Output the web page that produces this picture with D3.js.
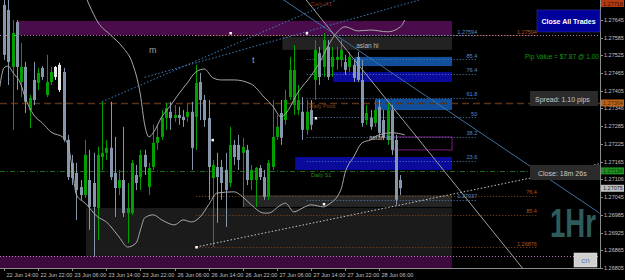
<!DOCTYPE html>
<html><head><meta charset="utf-8">
<script src="https://cdn.jsdelivr.net/npm/d3@7"></script>
<style>html,body{margin:0;padding:0;background:#000;overflow:hidden}svg{display:block}text{font-family:"Liberation Sans",Arial,sans-serif}</style>
</head><body><svg id="c" width="625" height="280"></svg>
<script>
// ---------- data ----------
const open=[1.27696,1.27679,1.27486,1.27638,1.27435,1.27486,1.27340,1.27442,1.27432,1.27483,
1.27391,1.27435,1.27486,1.27493,1.27469,1.27239,1.27161,1.27127,1.27079,1.27052,
1.27103,1.27093,1.27008,1.27181,1.27195,1.27212,1.27127,1.27076,1.27103,1.26991,
1.26991,1.27120,1.27113,1.27188,1.27079,1.27147,1.27229,1.27249,1.27313,1.27334,
1.27313,1.27323,1.27317,1.27317,1.27334,1.27317,1.27435,1.27374,1.27313,1.27110,
1.27147,1.27147,1.27137,1.27093,1.27222,1.27222,1.27195,1.27205,1.27103,1.27103,
1.27144,1.27113,1.27046,1.27147,1.27249,1.27330,1.27306,1.27384,1.27357,1.27340,
1.27334,1.27273,1.27340,1.27442,1.27533,1.27486,1.27554,1.27486,1.27510,1.27510,
1.27503,1.27486,1.27493,1.27520,1.27442,1.27306,1.27313,1.27296,1.27351,1.27306,
1.27239,1.27340,1.27239,1.27103];
const high=[1.27713,1.27713,1.27645,1.27645,1.27567,1.27503,1.27391,1.27503,1.27483,1.27489,
1.27527,1.27486,1.27489,1.27500,1.27483,1.27256,1.27188,1.27161,1.27103,1.27239,
1.27205,1.27195,1.27215,1.27368,1.27239,1.27368,1.27249,1.27137,1.27283,1.27093,
1.27171,1.27154,1.27205,1.27205,1.27161,1.27290,1.27290,1.27340,1.27364,1.27368,
1.27357,1.27351,1.27340,1.27364,1.27368,1.27493,1.27466,1.27391,1.27374,1.27171,
1.27195,1.27171,1.27195,1.27283,1.27239,1.27256,1.27246,1.27222,1.27154,1.27147,
1.27154,1.27137,1.27171,1.27374,1.27323,1.27374,1.27408,1.27520,1.27560,1.27425,
1.27384,1.27374,1.27374,1.27577,1.27554,1.27601,1.27577,1.27554,1.27554,1.27577,
1.27527,1.27537,1.27510,1.27537,1.27510,1.27357,1.27340,1.27374,1.27374,1.27340,
1.27364,1.27357,1.27256,1.27120];
const low=[1.27510,1.27425,1.27273,1.27408,1.27384,1.27330,1.27279,1.27357,1.27408,1.27442,
1.27384,1.27425,1.27442,1.27401,1.27232,1.27103,1.27086,1.26968,1.27036,1.27042,
1.26934,1.26843,1.26900,1.27137,1.27171,1.27103,1.26978,1.27052,1.26978,1.26890,
1.26985,1.27069,1.27069,1.27120,1.27052,1.27137,1.27205,1.27239,1.27273,1.27273,
1.27300,1.27290,1.27283,1.27300,1.27137,1.27205,1.27306,1.27283,1.27036,1.26876,
1.26958,1.27036,1.26944,1.27079,1.27154,1.27137,1.27012,1.27086,1.27069,1.27012,
1.27103,1.27036,1.27036,1.27137,1.27239,1.27222,1.27290,1.27374,1.27323,1.27323,
1.27239,1.27256,1.27273,1.27374,1.27425,1.27452,1.27442,1.27452,1.27476,1.27486,
1.27459,1.27469,1.27435,1.27435,1.27283,1.27290,1.27273,1.27283,1.27249,1.27239,
1.27222,1.27188,1.27019,1.27052];
const close=[1.27527,1.27503,1.27601,1.27486,1.27486,1.27368,1.27381,1.27374,1.27466,1.27452,
1.27435,1.27469,1.27452,1.27408,1.27239,1.27113,1.27110,1.27069,1.27052,1.27188,
1.27012,1.27012,1.27188,1.27195,1.27212,1.27113,1.27076,1.27103,1.26991,1.27008,
1.27161,1.27093,1.27188,1.27147,1.27144,1.27229,1.27249,1.27313,1.27347,1.27313,
1.27323,1.27313,1.27306,1.27334,1.27212,1.27432,1.27374,1.27306,1.27147,1.27154,
1.27113,1.27093,1.27069,1.27222,1.27181,1.27171,1.27215,1.27103,1.27137,1.27144,
1.27113,1.27046,1.27161,1.27249,1.27283,1.27246,1.27374,1.27476,1.27476,1.27374,
1.27273,1.27334,1.27290,1.27544,1.27452,1.27577,1.27452,1.27520,1.27520,1.27544,
1.27476,1.27520,1.27449,1.27442,1.27296,1.27330,1.27283,1.27340,1.27263,1.27246,
1.27340,1.27205,1.27036,1.27075];
const whiteBars=[12,13];

const upperIdx=[18,20,22,25,28,30,32,33,34,35,37,39,41,43,45,47,49,51,54,58,61,63,65,66,69,72,74,76,78,80,83,86,90,93,94];
const upperVal=[1.27764,1.27696,1.27638,1.27594,1.27550,1.27503,1.27391,1.27290,1.27249,1.27263,1.27317,1.27354,1.27395,1.27432,1.27469,1.27479,1.27449,1.27442,1.27442,1.27428,1.27384,1.27354,1.27317,1.27327,1.27401,1.27456,1.27500,1.27557,1.27601,1.27622,1.27608,1.27611,1.27605,1.27622,1.27645];
const lowerIdx=[-1,0,1,2,4,5,7,9,11,14,15,16,17,19,22,24,27,29,31,32,33,35,37,40,42,44,46,48,50,54,56,58,61,62,65,66,68,70,72,75,76,79,80,82,84,86,88,91,94];
const lowerVal=[1.27418,1.27483,1.27489,1.27469,1.27425,1.27381,1.27323,1.27296,1.27266,1.27246,1.27222,1.27144,1.27052,1.27025,1.26978,1.26961,1.26910,1.26876,1.26890,1.26934,1.26975,1.26985,1.26968,1.26951,1.26968,1.26961,1.26978,1.27019,1.27059,1.27063,1.27046,1.27019,1.26991,1.26991,1.27019,1.27025,1.26995,1.27008,1.27019,1.27012,1.27019,1.27069,1.27127,1.27181,1.27229,1.27239,1.27256,1.27263,1.27256];

const priceTicks=[1.27645,1.27585,1.27525,1.27465,1.27405,1.27346,1.27285,1.27225,1.27165,1.27106,1.27045,1.26985,1.26925,1.26865,1.26805];
const priceTickLabels=["1.27645","1.27585","1.27525","1.27465","1.27405","1.27346","1.27285","1.27225","1.27165","1.27106","1.27045","1.26985","1.26925","1.26865","1.26805"];
const timeIdx=[0,8,16,24,32,40,48,56,64,72,80,88];
const timeLabels=["22 Jun 14:00","22 Jun 22:00","23 Jun 06:00","23 Jun 14:00","23 Jun 22:00","26 Jun 06:00","26 Jun 14:00","26 Jun 22:00","27 Jun 06:00","27 Jun 14:00","27 Jun 22:00","28 Jun 06:00"];

const fibHigh=1.27594, fibLow=1.27037;
const fibLevels=[85.4,76.4,61.8,50,38.2,23.6];
const extPrices=[1.27594,1.27049,1.26985,1.26876];
const extLabels=["1.27594","76.4","85.4","1.26876"];
const pivot=1.27364, s1=1.27134, r1=1.27716, lastPrice=1.27075, lowZoneLine=1.26846;

// zones: start bar, end bar, top price, bottom price
const zoneStart=[-2,3,19.2,56,65.3,82.2,77.2,87.1,68.3];
const zoneEnd  =[105.1,105.1,105.1,105.1,105.1,105.1,105.1,105.1,105.1];
const zoneTop  =[1.26846,1.27642,1.27008,1.27052,1.27588,1.27520,1.27469,1.27378,1.27181];
const zoneBot  =[1.26805,1.27594,1.26846,1.27012,1.27544,1.27489,1.27435,1.27340,1.27137];
const zoneKind =["purpleLow","purple","gray","grayLight","grayTop","steel","navy","steel","navy"];
const boxOutline={start:91,end:105.1,top:1.27249,bot:1.27205};

// trend lines: bar/price endpoints
const tlI1=[65.3,70.7,45.1,23,33], tlP1=[1.27716,1.27716,1.26876,1.27368,1.27451];
const tlI2=[139.7,121.6,139.7,78,97.5], tlP2=[1.26991,1.26805,1.27158,1.27713,1.27713];
const tlKind=["blue","gray","whiteDot","blueDot","blueDot"];

// fractal dots
const dotIdx=[53.1,71,73.1,48.9,45.1,75];
const dotVal=[1.27601,1.27601,1.27313,1.27239,1.26876,1.27022];

// ---------- drawing ----------
const W=600,H=268;
const svg=d3.select("#c");
svg.append("rect").attr("width",625).attr("height",280).attr("fill","#000");
const x=d3.scaleLinear().domain([-0.94,139.8]).range([0,W]);
const y=d3.scaleLinear().domain([1.26805,1.27645]).range([H,20]);
svg.append("clipPath").attr("id","pc").append("rect").attr("width",W).attr("height",H);
const g=svg.append("g").attr("clip-path","url(#pc)");

const zoneFill={purpleLow:"#3d0a3d",purple:"#4a0c4a",gray:"#1b1b1b",grayLight:"#262626",grayTop:"#222222",steel:"#0f4f9c",navy:"#0a0a9c"};
zoneKind.forEach((k,j)=>{
  g.append("rect").attr("x",x(zoneStart[j])).attr("width",x(zoneEnd[j])-x(zoneStart[j]))
   .attr("y",y(zoneTop[j])).attr("height",y(zoneBot[j])-y(zoneTop[j])).attr("fill",zoneFill[k]);
});
g.append("rect").attr("x",x(boxOutline.start)).attr("width",x(boxOutline.end)-x(boxOutline.start))
 .attr("y",y(boxOutline.top)).attr("height",y(boxOutline.bot)-y(boxOutline.top))
 .attr("fill","none").attr("stroke","#7a1a7a").attr("stroke-width",1);

// horizontal levels
function hline(p,x1,x2,col,dash,w){g.append("line").attr("x1",x1).attr("x2",x2).attr("y1",Math.round(y(p))+0.5).attr("y2",Math.round(y(p))+0.5).attr("stroke",col).attr("stroke-width",w||1).attr("stroke-dasharray",dash);}
hline(fibHigh,0,W,"#b07ab0","1,2");
hline(lowZoneLine,0,W,"#b07ab0","1,2");
hline(pivot,0,W,"#5a3216","7,4",1.5);
hline(s1,0,W,"#1f6a1f","5,2,1,2");
// extension (orange)
extPrices.forEach((p,j)=>{
  hline(p,x(45.1),x(125),"#8a4a1a","1,2");
  g.append("text").attr("x",x(125)).attr("y",y(p)-1.5).attr("text-anchor","end").attr("font-size",5.5).attr("fill","#b0581e").text(extLabels[j]);
});
// fib lines
const fibPrices=fibLevels.map(l=>fibLow+(fibHigh-fibLow)*l/100);
[fibHigh,...fibPrices,fibLow].forEach((p,j)=>{
  hline(p,x(71),x(111),"#4f7fb8","1,2");
  const lab=j===0?"1.27594":(j===fibPrices.length+1?"1.27037":String(fibLevels[j-1]));
  g.append("text").attr("x",x(111)).attr("y",y(p)-1.5).attr("text-anchor","end").attr("font-size",5.5).attr("fill","#5a8ac8").text(lab);
});

// candles
const idx=d3.range(open.length);
const bull="#00a000", bear="#8797ab";
idx.forEach(i=>{
  const up=close[i]>=open[i];
  const col=whiteBars.includes(i)?"#e8e8e8":(up?bull:bear);
  const cx=Math.round(x(i));
  g.append("line").attr("x1",cx+0.5).attr("x2",cx+0.5).attr("y1",y(high[i])).attr("y2",y(low[i])).attr("stroke",col).attr("stroke-width",1);
  const t=y(Math.max(open[i],close[i])), b=y(Math.min(open[i],close[i]));
  g.append("rect").attr("x",cx-1).attr("width",3).attr("y",t).attr("height",Math.max(1,b-t)).attr("fill",col);
});

// bands
const band=d3.line().x(d=>x(d[0])).y(d=>y(d[1])).curve(d3.curveMonotoneX);
g.append("path").attr("d",band(upperIdx.map((v,j)=>[v,upperVal[j]]))).attr("fill","none").attr("stroke","#a8a8a8").attr("stroke-width",1);
g.append("path").attr("d",band(lowerIdx.map((v,j)=>[v,lowerVal[j]]))).attr("fill","none").attr("stroke","#a8a8a8").attr("stroke-width",1);

// trend lines
const tlStyle={blue:["#3f6f9f",null],gray:["#a0a0a0",null],whiteDot:["#c8c8c8","1.5,2"],blueDot:["#3f7fbf","1.5,2"]};
tlKind.forEach((k,j)=>{
  g.append("line").attr("x1",x(tlI1[j])).attr("y1",y(tlP1[j])).attr("x2",x(tlI2[j])).attr("y2",y(tlP2[j]))
   .attr("stroke",tlStyle[k][0]).attr("stroke-width",1).attr("stroke-dasharray",tlStyle[k][1]);
});
// dots
dotIdx.forEach((v,j)=>g.append("rect").attr("x",x(v)-1).attr("y",y(dotVal[j])-1).attr("width",2.5).attr("height",2.5).attr("fill","#ffffff"));

// labels on chart
function txt(xx,yy,s,size,col,anchor){return svg.append("text").attr("x",xx).attr("y",yy).attr("font-size",size).attr("fill",col).attr("text-anchor",anchor||"start").text(s);}
txt(x(71.6),y(pivot)+5,"Daily Pivot",5.5,"#8a4a1a");
txt(x(72),y(s1)+6,"Daily S1",5.5,"#1f8f1f");
txt(x(72),y(r1)+7,"Daily R1",5.5,"#7a2a10");
txt(x(82.6),y(1.27550),"asian hi",6.5,"#b8b8b8");
txt(x(85.6),y(1.27250)+3,"asian lo",6.5,"#b8b8b8");
txt(x(34),y(1.27533),"m",9,"#a0a0a0");
txt(x(58.2),y(1.27500),"t",9,"#a0a0a0");

// axes
svg.append("line").attr("x1",W+0.5).attr("x2",W+0.5).attr("y1",0).attr("y2",H).attr("stroke","#8c8c8c");
svg.append("line").attr("x1",0).attr("x2",W).attr("y1",H+0.5).attr("y2",H+0.5).attr("stroke","#8c8c8c");
priceTicks.forEach((p,j)=>{
  svg.append("line").attr("x1",W).attr("x2",W+3).attr("y1",Math.round(y(p))+0.5).attr("y2",Math.round(y(p))+0.5).attr("stroke","#8c8c8c");
  txt(W+4,y(p)+2,priceTickLabels[j],5.5,"#c0c0c0");
});
timeIdx.forEach((v,j)=>{
  const tx=Math.round(x(v))+0.5;
  svg.append("line").attr("x1",tx).attr("x2",tx).attr("y1",H).attr("y2",H+3).attr("stroke","#8c8c8c");
  txt(tx+2,H+9,timeLabels[j],5.5,"#c0c0c0");
});
// axis price boxes
function axBox(p,bg,fg,lab){
  const yy=Math.max(y(p),3.5);
  svg.append("rect").attr("x",W+1).attr("y",yy-3.5).attr("width",23).attr("height",7).attr("fill",bg);
  txt(W+3,yy+2,lab,5.5,fg);
}
axBox(r1,"#b23a12","#3a0a00",d3.format(".5f")(r1));
axBox(pivot,"#b8621b","#5a2a00",d3.format(".5f")(pivot));
axBox(s1,"#1f8f1f","#0a3a0a",d3.format(".5f")(s1));
axBox(lastPrice,"#c0c0c0","#202020",d3.format(".5f")(lastPrice));

// panels
svg.append("rect").attr("x",537).attr("y",10).attr("width",63).attr("height",22).attr("fill","#00009a").attr("stroke","#3a3ab0").attr("stroke-width",0.5);
txt(568.5,24,"Close All Trades",7,"#ffffff","middle").attr("font-weight","bold");
txt(525,59,"Pip Value = $7.87 @ 1.00",6.5,"#129a12");
svg.append("rect").attr("x",530).attr("y",91).attr("width",68).attr("height",15).attr("fill","#2b2b2b");
txt(535,101.5,"Spread: 1.10 pips",7,"#c8c8c8");
svg.append("rect").attr("x",530).attr("y",165).attr("width",70).attr("height",15).attr("fill","#2b2b2b");
txt(538,175.5,"Close: 18m 26s",7,"#c8c8c8");
const hr=svg.append("text").attr("font-size",40).attr("font-weight","bold")
  .attr("font-family","'DejaVu Sans Condensed','Liberation Sans',sans-serif")
  .attr("fill","#2e5b5b").text("1Hr");
const hw=hr.node().getComputedTextLength();
hr.attr("transform",`translate(550,237) scale(${46/hw},1)`);
svg.append("rect").attr("x",574).attr("y",253).attr("width",23).attr("height",14).attr("fill","#d0d0d0").attr("stroke","#f0f0f0").attr("stroke-width",0.5);
txt(585.5,263,"cn",8,"#5a7ab0","middle");
</script></body></html>
